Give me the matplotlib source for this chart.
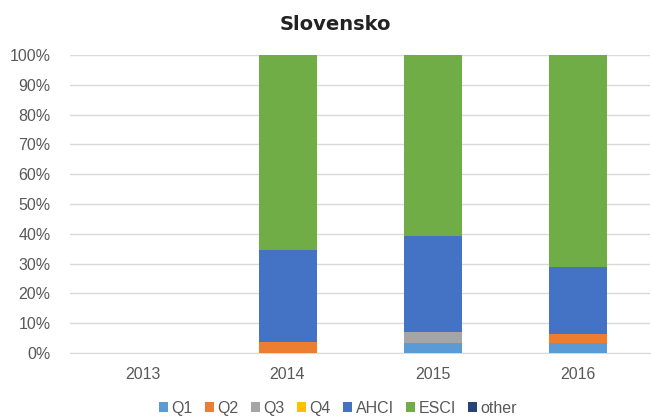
import matplotlib
matplotlib.use("Agg")
import matplotlib.pyplot as plt
import numpy as np

years = ["2013", "2014", "2015", "2016"]
q1 = [0, 0, 3.3, 3.3]
q2 = [0, 3.7, 0, 3.1]
q3 = [0, 0, 3.7, 0]
q4 = [0, 0, 0, 0]
ahci = [0, 30.9, 32.1, 22.5]
esci = [0, 65.4, 60.9, 71.1]
other = [0, 0, 0, 0]

series = [("Q1", q1, "#5B9BD5"), ("Q2", q2, "#ED7D31"), ("Q3", q3, "#A5A5A5"),
          ("Q4", q4, "#FFC000"), ("AHCI", ahci, "#4472C4"), ("ESCI", esci, "#70AD47"),
          ("other", other, "#264478")]

plt.rcParams["font.family"] = ["Liberation Sans", "DejaVu Sans"]

fig = plt.figure(figsize=(6.51, 4.19), dpi=100)
ax = fig.add_axes([70/651, 66/419, 580/651, 298/419])
x = np.arange(len(years))
bottom = np.zeros(len(years))
for name, vals, col in series:
    v = np.array(vals, dtype=float)
    ax.bar(x, v, 0.4, bottom=bottom, color=col, label=name, zorder=3)
    bottom += v

ax.set_xlim(-0.5, 3.5)
ax.set_ylim(0, 100)
ax.set_yticks(np.arange(0, 101, 10))
ax.set_yticklabels([f"{t}%" for t in range(0, 101, 10)])
ax.set_xticks(x)
ax.set_xticklabels(years)
ax.grid(axis="y", color="#D9D9D9", linewidth=1, zorder=0)
for s in ["top", "right", "left"]:
    ax.spines[s].set_visible(False)
ax.spines["bottom"].set_color("#D9D9D9")
ax.tick_params(axis="both", length=0, colors="#595959", labelsize=11.5)
ax.tick_params(axis="x", pad=10)
ax.tick_params(axis="y", pad=14)
fig.text(0.515, 1 - 25/419, "Slovensko", ha="center", va="center", fontsize=14,
         fontweight="bold", color="#222222", family=["DejaVu Sans"])
leg = fig.legend(loc="center", bbox_to_anchor=(338/651, 1 - 408/419), ncol=7, frameon=False,
                 fontsize=11.5, handlelength=0.55, handleheight=0.55, handletextpad=0.25, columnspacing=0.75)
for t in leg.get_texts():
    t.set_color("#595959")
fig.savefig("out.png", dpi=100)
